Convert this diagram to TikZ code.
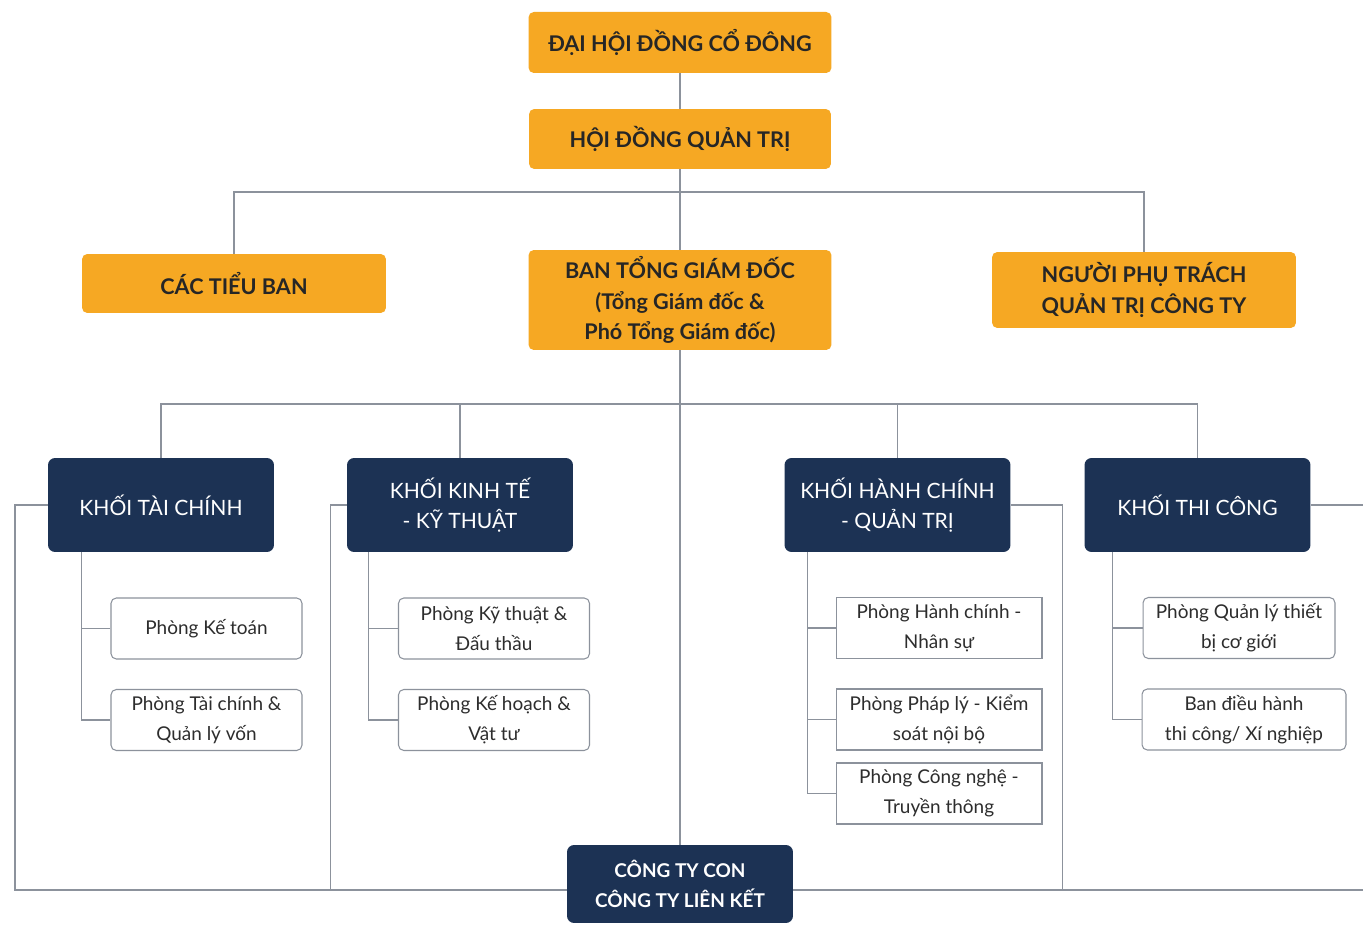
\documentclass[tikz,border=0pt]{standalone}
\usepackage{fontspec}
\setmainfont{Lato}
\usetikzlibrary{positioning}
\definecolor{orgbox}{RGB}{246, 168, 35}
\definecolor{navybox}{RGB}{28, 50, 84}
\definecolor{lnGrey}{RGB}{140, 146, 156}
\definecolor{txtGrey}{RGB}{45, 45, 45}

\tikzset{
  lvlA/.style={fill=orgbox, rounded corners=3pt, align=center, text=black!85,
    font=\fontsize{12.3}{17.5}\selectfont\bfseries, inner sep=2pt},
  lvlB/.style={fill=navybox, rounded corners=4pt, align=center, text=white,
    font=\fontsize{12}{17.5}\selectfont, minimum width=4.52cm, minimum height=1.88cm},
  dept/.style={draw=lnGrey, fill=white, rounded corners=3pt, align=center, text=txtGrey,
    font=\fontsize{10.8}{17}\selectfont, line width=0.6pt, minimum height=1.22cm},
  deptsq/.style={dept, sharp corners},
  conn/.style={draw=lnGrey, line width=0.7pt},
}

\begin{document}
\begin{tikzpicture}[x=0.02cm, y=-0.02cm]
  \useasboundingbox[fill=white] (0,0) rectangle (1363,925);
  % top level
  \node[lvlA, minimum width=6.06cm, minimum height=1.22cm] (dhcd) at (680,42.5) {ĐẠI HỘI ĐỒNG CỔ ĐÔNG};
  \node[lvlA, minimum width=6.04cm, minimum height=1.2cm] (hdqt) at (680,139) {HỘI ĐỒNG QUẢN TRỊ};
  \node[lvlA, minimum width=6.08cm, minimum height=1.18cm] (ctban) at (234,283.5) {CÁC TIỂU BAN};
  \node[lvlA, minimum width=6.06cm, minimum height=2.0cm] (btgd) at (680,300) {BAN TỔNG GIÁM ĐỐC\\(Tổng Giám đốc \&\\Phó Tổng Giám đốc)};
  \node[lvlA, minimum width=6.08cm, minimum height=1.52cm] (nptqt) at (1144,290) {NGƯỜI PHỤ TRÁCH\\QUẢN TRỊ CÔNG TY};
  % khoi
  \node[lvlB] (kTaiChinh) at (161,505) {KHỐI TÀI CHÍNH};
  \node[lvlB] (kKinhTe) at (460,505) {KHỐI KINH TẾ\\- KỸ THUẬT};
  \node[lvlB] (kHanhChinh) at (897.5,505) {KHỐI HÀNH CHÍNH\\- QUẢN TRỊ};
  \node[lvlB] (kThiCong) at (1197.5,505) {KHỐI THI CÔNG};
  \node[lvlB, minimum height=1.56cm, font=\fontsize{10.8}{17.5}\selectfont\bfseries] (ctyCon) at (680,884) {CÔNG TY CON\\CÔNG TY LIÊN KẾT};
  % phong ban
  \node[dept, minimum width=3.82cm] (pKeToan) at (206.5,628.5) {Phòng Kế toán};
  \node[dept, minimum width=3.82cm] (pTaiChinh) at (206.5,720) {Phòng Tài chính \&\\Quản lý vốn};
  \node[dept, minimum width=3.82cm] (pKyThuat) at (494,628.5) {Phòng Kỹ thuật \&\\Đấu thầu};
  \node[dept, minimum width=3.82cm] (pKeHoach) at (494,720) {Phòng Kế hoạch \&\\Vật tư};
  \node[deptsq, minimum width=4.12cm] (pHanhChinh) at (939,628) {Phòng Hành chính -\\Nhân sự};
  \node[deptsq, minimum width=4.12cm] (pPhapLy) at (939,719.5) {Phòng Pháp lý - Kiểm\\soát nội bộ};
  \node[deptsq, minimum width=4.12cm] (pCongNghe) at (939,793.5) {Phòng Công nghệ -\\Truyền thông};
  \node[dept, minimum width=3.84cm] (pQuanLy) at (1239,628) {Phòng Quản lý thiết\\bị cơ giới};
  \node[dept, minimum width=4.08cm] (bDieuHanh) at (1244,719.5) {Ban điều hành\\thi công/ Xí nghiệp};
  % bus points
  \coordinate (busTop) at (680,192);
  \coordinate (busMid) at (680,404);
  \coordinate (botLeft) at (15,890);
  \coordinate (botRight) at (1363,890);
  % connectors
  \draw[conn] (dhcd) -- (hdqt);
  \draw[conn] (hdqt) -- (btgd);
  \draw[conn] (ctban.north) |- (busTop) -| (nptqt.north);
  \draw[conn] (btgd) -- (ctyCon);
  \draw[conn] (kTaiChinh.north) |- (busMid) -| (kThiCong.north);
  \draw[conn] (kKinhTe.north) |- (busMid);
  \draw[conn] (kHanhChinh.north) |- (busMid);
  \draw[conn] (kTaiChinh.west) -| (botLeft) -- (botLeft -| ctyCon.west);
  \draw[conn] (kKinhTe.west) -- ++(-16,0) |- (botLeft -| ctyCon.west);
  \draw[conn] (kHanhChinh.east) -- ++(52,0) |- (botRight -| ctyCon.east);
  \draw[conn] (kThiCong.east) -- (kThiCong.east -| botRight);
  \draw[conn] (ctyCon.east |- botRight) -- (botRight);
  % sub connectors
  \draw[conn] (kTaiChinh.south west) ++(34,0) |- (pTaiChinh.west);
  \draw[conn] (kTaiChinh.south west) ++(34,0) |- (pKeToan.west);
  \draw[conn] (kKinhTe.south west) ++(22,0) |- (pKeHoach.west);
  \draw[conn] (kKinhTe.south west) ++(22,0) |- (pKyThuat.west);
  \draw[conn] (kHanhChinh.south west) ++(23,0) |- (pCongNghe.west);
  \draw[conn] (kHanhChinh.south west) ++(23,0) |- (pHanhChinh.west);
  \draw[conn] (kHanhChinh.south west) ++(23,0) |- (pPhapLy.west);
  \draw[conn] (kThiCong.south west) ++(28,0) |- (bDieuHanh.west);
  \draw[conn] (kThiCong.south west) ++(28,0) |- (pQuanLy.west);
\end{tikzpicture}
\end{document}
